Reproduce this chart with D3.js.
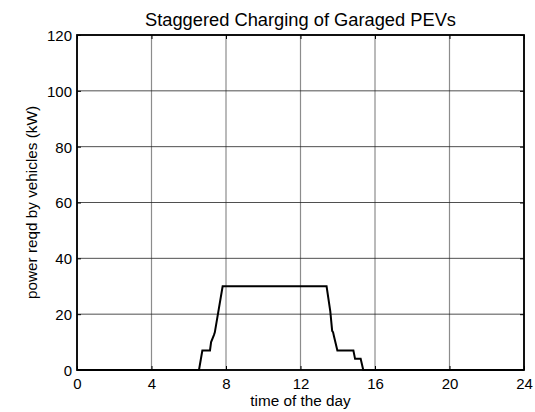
<!DOCTYPE html>
<html>
<head>
<meta charset="utf-8">
<script src="https://cdn.jsdelivr.net/npm/d3@7"></script>
<style>
  body { margin: 0; background: #fff; }
  text { font-family: "Liberation Sans", Arial, sans-serif; }
</style>
</head>
<body>
<svg class="pev-frame"></svg>
<script>
// hours of the day and kW drawn by the garaged vehicles
const hours = [0, 6.55, 6.73, 7.14, 7.2, 7.35, 7.4, 7.82, 13.4, 13.6, 13.7, 13.75, 13.8, 13.98, 14.84, 14.93, 15.23, 15.37, 24];
const power = [0, 0, 7, 7, 10, 12.5, 13.5, 30, 30, 21, 14, 13.5, 12, 7, 7, 4, 4, 0, 0];
const xTicks = [0, 4, 8, 12, 16, 20, 24];
const yTicks = [0, 20, 40, 60, 80, 100, 120];

const margin = {top: 35, right: 11, bottom: 42, left: 77}
  , width = 535 - margin.left - margin.right
  , height = 412 - margin.top - margin.bottom;

const svg = d3.select(".pev-frame")
  .attr("width", width + margin.left + margin.right)
  .attr("height", height + margin.top + margin.bottom)

const graph = svg.append("g")
  .attr("transform", "translate(" + margin.left + "," + margin.top + ")")

const xScale = d3.scaleLinear().domain([0, 24]).range([0, width]);
const yScale = d3.scaleLinear().domain([0, 120]).range([height, 0]);

// grid
graph.selectAll(".vgrid")
  .data(xTicks)
  .enter().append("line")
  .attr("x1", d => xScale(d)).attr("x2", d => xScale(d))
  .attr("y1", 0).attr("y2", height)
  .style("stroke", "#8c8c8c")
  .style("stroke-width", 1.2)

graph.selectAll(".hgrid")
  .data(yTicks)
  .enter().append("line")
  .attr("x1", 0).attr("x2", width)
  .attr("y1", d => yScale(d)).attr("y2", d => yScale(d))
  .style("stroke", "#222")
  .style("stroke-width", 0.8)

// axes with inward ticks
const xAxis = d3.axisBottom(xScale).tickValues(xTicks).tickSizeInner(-4).tickSizeOuter(0).tickPadding(8);
const yAxis = d3.axisLeft(yScale).tickValues(yTicks).tickSizeInner(-4).tickSizeOuter(0).tickPadding(5);

graph.append("g")
  .attr("transform", "translate(0," + height + ")")
  .call(xAxis)
  .call(g => g.select(".domain").remove())
  .call(g => g.selectAll("text").attr("font-size", "15px").attr("fill", "#000"))

graph.append("g")
  .call(yAxis)
  .call(g => g.select(".domain").remove())
  .call(g => g.selectAll("text").attr("font-size", "15px").attr("fill", "#000").attr("dy", "0.36em"))

graph.append("g")
  .call(d3.axisTop(xScale).tickValues(xTicks).tickSizeInner(-4).tickSizeOuter(0).tickFormat(""))
  .call(g => g.select(".domain").remove())
graph.append("g")
  .attr("transform", "translate(" + width + ",0)")
  .call(d3.axisRight(yScale).tickValues(yTicks).tickSizeInner(-4).tickSizeOuter(0).tickFormat(""))
  .call(g => g.select(".domain").remove())

// frame
graph.append("rect")
  .attr("width", width).attr("height", height)
  .style("fill", "none")
  .style("stroke", "#000")
  .style("stroke-width", 1.8)

// the load line
const line = d3.line()
  .x((d, i) => xScale(hours[i]))
  .y(d => yScale(d));

graph.append("path")
  .datum(power)
  .attr("d", line)
  .style("fill", "none")
  .style("stroke", "#000")
  .style("stroke-width", 2)

svg.append("text")
  .attr("x", margin.left + width / 2)
  .attr("y", 26)
  .attr("text-anchor", "middle")
  .attr("font-size", "18.3px")
  .text("Staggered Charging of Garaged PEVs")

svg.append("text")
  .attr("x", margin.left + width / 2)
  .attr("y", 406)
  .attr("text-anchor", "middle")
  .attr("font-size", "15.3px")
  .text("time of the day")

svg.append("text")
  .attr("transform", "translate(37," + (margin.top + height / 2 + 0) + ") rotate(-90)")
  .attr("text-anchor", "middle")
  .attr("font-size", "15.3px")
  .text("power reqd by vehicles (kW)")
</script>
</body>
</html>
